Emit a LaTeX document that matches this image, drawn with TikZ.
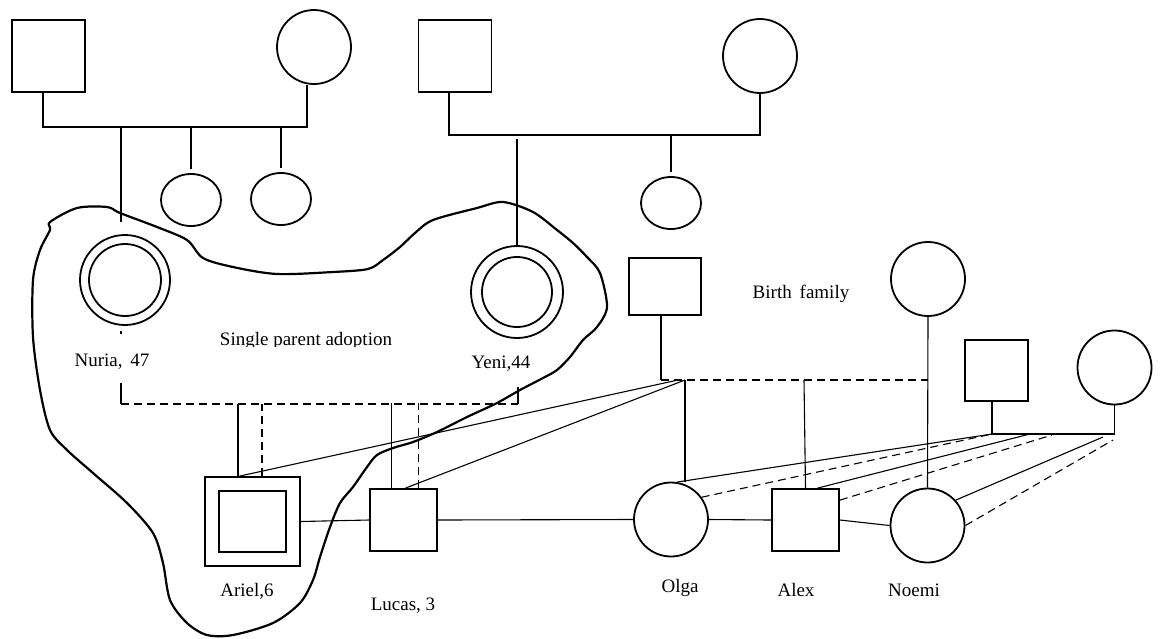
\documentclass[tikz,border=0pt]{standalone}
\usepackage{fontspec}
\setmainfont{Liberation Serif}
\usetikzlibrary{shapes.geometric}

\begin{document}
\begin{tikzpicture}[x=10pt, y=10pt]
\tikzstyle{every node}+=[inner sep=0pt]
\tikzstyle{male}=[draw, rectangle, line width=1.8pt]
\tikzstyle{female}=[draw, circle, line width=1.8pt, minimum size=74pt]
\tikzstyle{sib}=[draw, ellipse, line width=1.8pt, minimum width=60pt, minimum height=52pt]
\tikzstyle{link}=[line width=1.1pt]
\tikzstyle{cut}=[line width=1.1pt, dash pattern=on 8pt off 5pt]
\tikzstyle{blob}=[line width=2.2pt, line join=round]
\tikzstyle{lab}=[anchor=base, font=\fontsize{19}{22}\selectfont]
\useasboundingbox (0,0) rectangle (116.1,-63.8);

% grandparents, left side
\node [male, minimum width=73pt, minimum height=72pt] (gf1) at (4.85,-5.6) {};
\node [female] (gm1) at (31.4,-4.7) {};
\node [sib] (sib1) at (19.1,-20.0) {};
\node [sib] (sib2) at (28.1,-19.9) {};
\coordinate (bar1) at (0,-12.7);
\coordinate (nu0) at (12.1,-22.2);
\draw [link] ([xshift=-5.5pt]gf1.south) -- ([xshift=-5.5pt]gf1.south |- bar1) -- ([xshift=-7pt]gm1.south |- bar1) -- ([xshift=-7pt]gm1.south);
\draw [link] (nu0 |- bar1) -- (nu0);
\draw [link] (sib1.north |- bar1) -- ([yshift=4pt]sib1.north);
\draw [link] (sib2.north |- bar1) -- ([yshift=4pt]sib2.north);

% grandparents, right side
\node [male, minimum width=73pt, minimum height=72pt] (gf2) at (45.5,-5.6) {};
\node [female] (gm2) at (76.0,-5.6) {};
\node [sib] (sib3) at (67.1,-20.3) {};
\coordinate (bar2) at (0,-13.5);
\coordinate (bar2b) at (0,-13.9);
\draw [link] ([xshift=-6pt]gf2.south) -- ([xshift=-6pt]gf2.south |- bar2) -- (gm2.south |- bar2) -- (gm2.south);
\draw [link] (sib3.north |- bar2) -- ([yshift=4pt]sib3.north);

% adoptive mothers
\node [female, minimum size=90pt] (nuria) at (12.5,-28.0) {};
\node [female, minimum size=72pt] at (nuria.center) {};
\node [female, minimum size=92pt] (yeni) at (51.7,-29.2) {};
\node [female, minimum size=70pt] at (yeni.center) {};
\draw [link] (bar2b -| yeni.north) -- (yeni.north);
\draw [link] ([xshift=-4pt,yshift=-5pt]nuria.south) -- ++(0,-0.3);
\node [lab] (nurialab) at (11.2,-36.6) {Nuria,\, 47};
\node [lab] (yenilab) at (50.1,-36.8) {Yeni,44};

% children
\node [male, minimum width=95pt, minimum height=89pt] (ariel) at (25.25,-52.15) {};
\node [male, minimum width=67pt, minimum height=61pt] at (ariel.center) {};
\node [male, minimum width=67pt, minimum height=62pt] (lucas) at (40.35,-52.0) {};
\node [female] (olga) at (67.1,-51.95) {};
\node [male, minimum width=67pt, minimum height=62pt] (alex) at (80.55,-52.0) {};
\node [female] (noemi) at (92.75,-52.55) {};
\node [lab] (ariellab) at (24.7,-59.6) {Ariel,6};
\node [lab] (lucaslab) at (40.3,-61.0) {Lucas, 3};
\node [lab] (olgalab) at (68.0,-59.2) {Olga};
\node [lab] (alexlab) at (79.6,-59.6) {Alex};
\node [lab] (noemilab) at (91.4,-59.6) {Noemi};

% adoption line
\coordinate (adl) at (0,-40.4);
\coordinate (nu1) at (12.1,-38.3);
\coordinate (ye1) at (51.8,-38.7);
\draw [link] (nu1) -- (nu1 |- adl);
\draw [link] (ye1) -- (ye1 |- adl);
\draw [cut] (nu1 |- adl) -- (ye1 |- adl);
\draw [link] ([xshift=-14.5pt]ariel.north) -- ++(0,7.2);
\draw [cut] ([xshift=9.5pt]ariel.north) -- ++(0,7.2);
\draw [link] ([xshift=-12pt]lucas.north) -- ++(0,8.5);
\draw [cut] ([xshift=15pt]lucas.north) -- ++(0,8.5);

% birth family
\node [male, minimum width=72pt, minimum height=57pt] (bf) at (66.5,-28.65) {};
\node [female] (bm) at (92.8,-27.9) {};
\node [male, minimum width=63pt, minimum height=61pt] (rf) at (99.65,-37.05) {};
\node [female] (rm) at (111.45,-36.75) {};
\node [lab] (birthlab) at (80.1,-29.8) {Birth\, family};
\coordinate (bj) at (66.1,-38.0);
\coordinate (bj2) at (67.8,-38.0);
\coordinate (oj) at (68.5,-38.0);
\coordinate (aj) at (80.4,-38.0);
\draw [link] (bf.south -| bj) -- (bj);
\draw [cut] (bj) -- (bm.south |- bj);
\draw [link] (bm.south) -- (noemi.north);
\draw [link] (oj) -- (oj |- olga.north);
\draw [link] (aj) -- (alex.north);
\draw [link] ([xshift=-13pt]ariel.north) -- (bj2);
\draw [link] ([xshift=2pt]lucas.north) -- (oj);

% second couple
\coordinate (rj) at (99.2,-43.4);
\coordinate (r2) at (103.0,-43.4);
\coordinate (r3) at (105.2,-43.5);
\coordinate (r4) at (110.3,-43.7);
\coordinate (r5) at (111.3,-44.0);
\draw [link] (rf.south -| rj) -- (rj) -- (rm.south |- rj) -- (rm.south);
\draw [link] (olga.81) -- (rj);
\draw [cut] (olga.36) -- (rj);
\draw [link] ([xshift=12pt]alex.north) -- (r2);
\draw [cut] (alex.30) -- (r3);
\draw [link] (noemi.42) -- (r4);
\draw [cut] (noemi.0) -- (r5);

% siblings
\draw [link] (ariel.east) -- (lucas.west);
\draw [link] (lucas.east) -- (olga.west);
\draw [link] (olga.east) -- (alex.west);
\draw [link] (alex.east) -- (noemi.west);

% outline round the adoption
\draw [blob] plot [smooth cycle, tension=0.5] coordinates {
 (5.0,-23.0) (5.0,-22.2) (7.7,-20.8) (10.7,-20.7) (12.0,-21.3) (15.7,-22.7)
 (18.7,-24.0) (20.3,-25.8) (23.3,-26.7) (27.7,-27.4) (33.3,-27.2) (36.8,-26.9)
 (38.3,-26.0) (40.0,-24.7) (41.5,-23.3) (43.3,-22.0) (47.7,-20.8) (50.3,-20.2)
 (53.3,-21.2) (55.7,-23.0) (57.3,-24.3) (58.7,-25.7) (60.0,-27.3) (60.7,-30.7)
 (59.7,-32.7) (58.3,-34.0) (57.0,-35.7) (55.7,-37.0) (54.3,-37.8) (52.0,-39.0)
 (49.7,-40.3) (46.7,-41.7) (43.7,-43.2) (41.3,-44.2) (39.3,-44.8) (37.7,-45.5)
 (36.7,-46.7) (35.3,-48.7) (34.0,-50.3) (33.0,-52.7) (32.0,-55.7) (31.3,-58.0)
 (30.0,-60.3) (27.3,-62.3) (23.3,-63.5) (20.7,-63.5) (18.7,-62.3) (17.0,-60.0)
 (16.3,-56.3) (15.3,-53.3) (12.7,-50.3) (9.3,-47.3) (6.7,-45.0) (5.0,-43.0)
 (4.0,-39.0) (3.3,-33.7) (3.3,-28.0) (4.0,-25.0)};

\begin{scope}
\clip (19,-32) rectangle (42,-34.6);
\node [lab] (spa) at (30.6,-34.5) {Single parent adoption};
\end{scope}
\end{tikzpicture}
\end{document}
